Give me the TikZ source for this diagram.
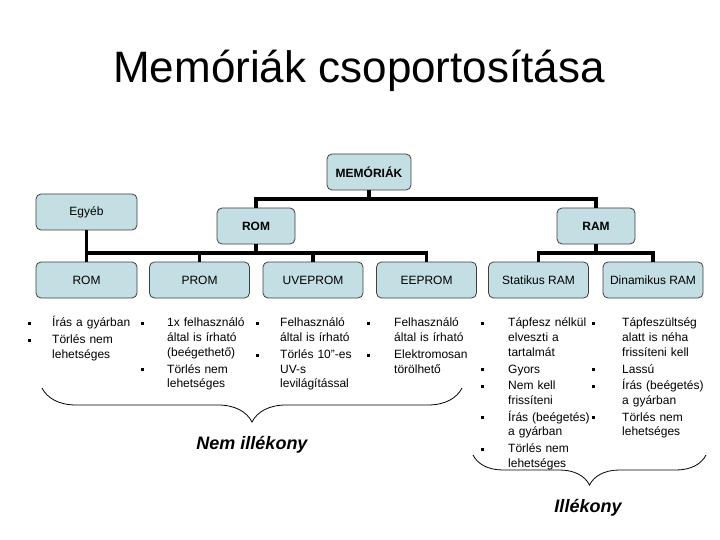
\documentclass[tikz,border=0pt]{standalone}
\usepackage{fontspec}
\setmainfont{Liberation Sans}
\usetikzlibrary{positioning, decorations.pathreplacing}
\definecolor{dobozkek}{HTML}{C3DFE4}
\definecolor{keret}{HTML}{404040}
\newlength{\pontbeh}
\newcommand{\pont}{\par\hangindent=\pontbeh\hangafter=1\noindent
  \makebox[\pontbeh][l]{\rule[1.8pt]{3pt}{3pt}}\rule{0pt}{11pt}\ignorespaces}
\newcommand{\sor}{\hfil\break}
\tikzset{
  doboz/.style={draw=keret, fill=dobozkek, rounded corners=5pt, line width=0.8pt,
                minimum width=100pt, minimum height=36pt, inner sep=2pt,
                font=\fontsize{12}{14}\selectfont},
  fodoboz/.style={doboz, minimum width=78pt, font=\fontsize{12}{14}\selectfont\bfseries},
  vonal/.style={line width=3.3pt},
  lista/.style 2 args={anchor=north west, inner sep=0pt, text width=#1,
                font=\fontsize{12}{14.7}\selectfont,
                execute at begin node={\raggedright\setlength{\pontbeh}{#2}\setlength{\parskip}{2pt}}},
  kapocs/.style={decorate, decoration={brace, mirror, amplitude=#1}, line width=0.8pt},
  cimke/.style={font=\fontsize{18}{20}\selectfont\bfseries\itshape},
}

\begin{document}
\begin{tikzpicture}[x=1pt, y=-1pt]
  \fill[white] (0,0) rectangle (720,540);
  \useasboundingbox (0,0) rectangle (720,540);

  %% Title
  \node[font=\fontsize{44}{50}\selectfont, anchor=base] (cim) at (359,83) {Memóriák csoportosítása};

  %% Tree
  \node[fodoboz, minimum width=84pt] (memoriak) at (369,172) {MEMÓRIÁK};
  \node[doboz, minimum width=101pt] (egyeb) at (86.5,212) {Egyéb};
  \node[fodoboz] (rom) at (256,226) {ROM};
  \node[fodoboz] (ram) at (596,226) {RAM};

  \node[doboz, minimum width=101pt] (romx) at (86.5,280) {ROM};
  \node[doboz] (prom)    at (199.5,280) {PROM};
  \node[doboz] (uveprom) at (313,280)   {UVEPROM};
  \node[doboz] (eeprom)  at (426.5,280) {EEPROM};
  \node[doboz] (sram)    at (538.5,280) {Statikus RAM};
  \node[doboz] (dram)    at (653,280)   {Dinamikus RAM};

  \coordinate (fobusz) at (0,199);
  \coordinate (rombusz) at (0,253);
  \coordinate (rambusz) at (0,253);

  \draw[vonal] (memoriak.south) -- (memoriak.south |- fobusz);
  \draw[vonal] (rom.north) -- (rom.north |- fobusz) -| (ram.north);
  \draw[vonal] (egyeb.south) -- (egyeb.south |- rombusz) -| (eeprom.north);
  \draw[vonal] (rom.south) -- (rom.south |- rombusz);
  \foreach \n in {romx, prom, uveprom}{
    \draw[vonal] (\n.north) -- (\n.north |- rombusz);
  }
  \draw[vonal] (ram.south) -- (ram.south |- rambusz);
  \draw[vonal] (sram.north) -- (sram.north |- rambusz) -| (dram.north);

  %% Lists
  \node[lista={112pt}{24pt}] (romlista) at (28,310)
    {\pont Írás a gyárban \pont Törlés nem\sor lehetséges\par};
  \node[lista={112pt}{26pt}] (promlista) at (141,310)
    {\pont 1x felhasználó\sor által is írható\sor (beégethető) \pont Törlés nem\sor lehetséges\par};
  \node[lista={110pt}{24pt}] (uvlista) at (256,310)
    {\pont Felhasználó\sor által is írható \pont Törlés 10\symbol{34}-es\sor UV-s\sor levilágítással\par};
  \node[lista={112pt}{27pt}] (eelista) at (367,310)
    {\pont Felhasználó\sor által is írható \pont Elektromosan\sor törölhető\par};
  \node[lista={115pt}{27pt}] (sramlista) at (481,310)
    {\pont Tápfesz nélkül\sor elveszti a\sor tartalmát \pont Gyors \pont Nem kell\sor frissíteni
     \pont Írás (beégetés)\sor a gyárban \pont Törlés nem\sor lehetséges\par};
  \node[lista={125pt}{30pt}] (dramlista) at (592,310)
    {\pont Tápfeszültség\sor alatt is néha\sor frissíteni kell \pont Lassú
     \pont Írás (beégetés)\sor a gyárban \pont Törlés nem\sor lehetséges\par};

  %% Braces
  \coordinate (nemb) at (42,388);
  \coordinate (nemj) at (462,388);
  \draw[kapocs=34pt] (nemb) -- (nemj);
  \node[cimke] (nemillekony) at (252,445) {Nem illékony};

  \coordinate (illb) at (473,455);
  \coordinate (illj) at (706,455);
  \draw[kapocs=30pt] (illb) -- (illj);
  \node[cimke] (illekony) at (588,508) {Illékony};
\end{tikzpicture}
\end{document}
